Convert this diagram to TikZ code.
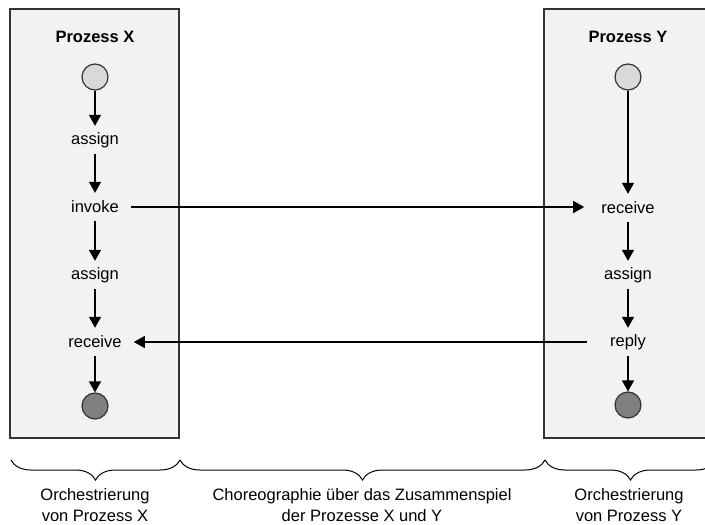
\documentclass[tikz,border=0pt]{standalone}
\usepackage{fontspec}
\setmainfont{Liberation Sans}
\usetikzlibrary{arrows.meta,decorations.pathreplacing}
\definecolor{boxfill}{HTML}{F2F2F2}
\definecolor{boxline}{HTML}{333333}
\definecolor{startfill}{HTML}{D9D9D9}
\definecolor{endfill}{HTML}{808080}
\begin{document}
\begin{tikzpicture}[x=1pt,y=-1pt,
  lane/.style={draw=boxline,fill=boxfill,line width=1.2pt},
  act/.style={inner xsep=12pt,inner ysep=0pt,minimum height=28pt,font=\fontsize{16.5}{20}\selectfont},
  title/.style={font=\fontsize{16.5}{20}\selectfont\bfseries},
  startc/.style={circle,draw=boxline,fill=startfill,line width=1.2pt,minimum size=26pt,inner sep=0pt},
  endc/.style={circle,draw=boxline,fill=endfill,line width=1.2pt,minimum size=26pt,inner sep=0pt},
  flow/.style={line width=1.5pt,-{Triangle[length=11pt,width=12pt]}},
  brc/.style={decorate,decoration={brace,mirror,amplitude=20pt},line width=1pt},
  lbl/.style={align=center,font=\fontsize{16.5}{21}\selectfont}]
\useasboundingbox (0,0) rectangle (705,525);
\fill[white] (0,0) rectangle (705,525);
% lanes
\draw[lane] (10,9) rectangle (179,438);
\draw[lane] (544,9) rectangle (716,438);
% left process
\node[title] (tx) at (95,37) {Prozess X};
\node[startc] (s1) at (95,77) {};
\node[act] (a1) at (95,140) {assign};
\node[act] (inv) at (95,207) {invoke};
\node[act] (a2) at (95,275) {assign};
\node[act] (r1) at (95,342) {receive};
\node[endc] (e1) at (95,406) {};
% right process
\node[title] (ty) at (628,37) {Prozess Y};
\node[startc] (s2) at (628,77) {};
\node[act] (r2) at (628,208) {receive};
\node[act] (a3) at (628,275) {assign};
\node[act] (rep) at (628,342) {reply};
\node[endc] (e2) at (628,405) {};
% flows
\draw[flow] (s1) -- (a1);
\draw[flow] (a1) -- (inv);
\draw[flow] (inv) -- (a2);
\draw[flow] (a2) -- (r1);
\draw[flow] (r1) -- (e1);
\draw[flow] (s2) -- (r2);
\draw[flow] (r2) -- (a3);
\draw[flow] (a3) -- (rep);
\draw[flow] (rep) -- (e2);
\draw[flow,shorten >=5pt] (inv.east) -- (r2.west |- inv.east);
\draw[flow,shorten <=11pt] (rep.west) -- (r1.east |- rep.west);
% braces
\coordinate (b0) at (11,460);
\coordinate (b1) at (180,460);
\coordinate (b2) at (545,460);
\coordinate (b3) at (716,460);
\draw[brc] (b0) -- (b1);
\draw[brc] (b1) -- (b2);
\draw[brc] (b2) -- (b3);
\node[lbl] (l1) at (95,505) {Orchestrierung\\von Prozess X};
\node[lbl] (l2) at (362,505) {Choreographie über das Zusammenspiel\\der Prozesse X und Y};
\node[lbl] (l3) at (629,505) {Orchestrierung\\von Prozess Y};
\end{tikzpicture}
\end{document}
